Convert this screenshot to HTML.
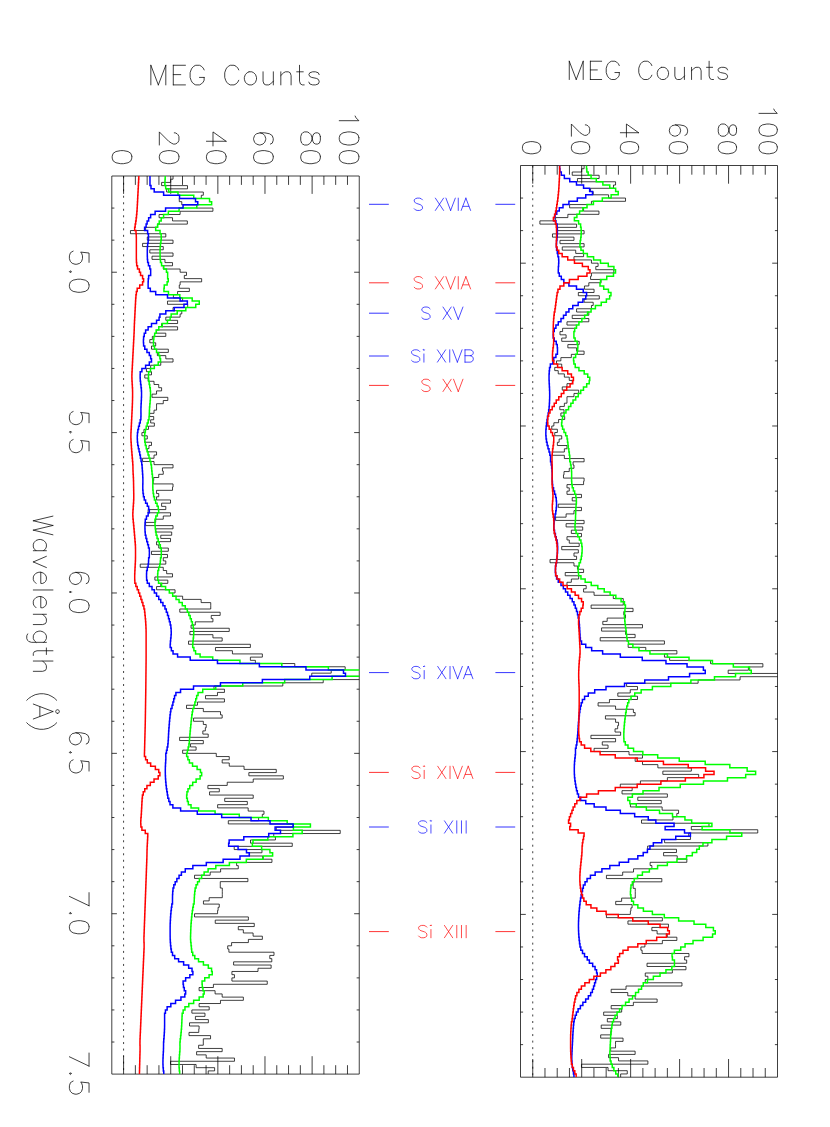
<!DOCTYPE html>
<html><head><meta charset="utf-8"><title>MEG Counts</title>
<style>html,body{margin:0;padding:0;background:#fff;font-family:"Liberation Sans",sans-serif}svg{display:block}</style>
</head><body>
<svg width="830" height="1127" viewBox="0 0 830 1127">
<rect width="830" height="1127" fill="#fff"/>
<path d="M111.8 176H359.25V1074.1H111.8ZM123.58 176v17.9M123.58 1074.1v-17.9M135.37 176v8.9M135.37 1074.1v-8.9M147.15 176v8.9M147.15 1074.1v-8.9M158.93 176v8.9M158.93 1074.1v-8.9M170.72 176v17.9M170.72 1074.1v-17.9M182.5 176v8.9M182.5 1074.1v-8.9M194.28 176v8.9M194.28 1074.1v-8.9M206.07 176v8.9M206.07 1074.1v-8.9M217.85 176v17.9M217.85 1074.1v-17.9M229.63 176v8.9M229.63 1074.1v-8.9M241.42 176v8.9M241.42 1074.1v-8.9M253.2 176v8.9M253.2 1074.1v-8.9M264.98 176v17.9M264.98 1074.1v-17.9M276.77 176v8.9M276.77 1074.1v-8.9M288.55 176v8.9M288.55 1074.1v-8.9M300.33 176v8.9M300.33 1074.1v-8.9M312.12 176v17.9M312.12 1074.1v-17.9M323.9 176v8.9M323.9 1074.1v-8.9M335.68 176v8.9M335.68 1074.1v-8.9M347.47 176v8.9M347.47 1074.1v-8.9M111.8 208.07h2.6M359.25 208.07h-2.6M111.8 240.15h2.6M359.25 240.15h-2.6M111.8 272.22h5.1M359.25 272.22h-5.1M111.8 304.3h2.6M359.25 304.3h-2.6M111.8 336.38h2.6M359.25 336.38h-2.6M111.8 368.45h2.6M359.25 368.45h-2.6M111.8 400.53h2.6M359.25 400.53h-2.6M111.8 432.6h5.1M359.25 432.6h-5.1M111.8 464.68h2.6M359.25 464.68h-2.6M111.8 496.75h2.6M359.25 496.75h-2.6M111.8 528.83h2.6M359.25 528.83h-2.6M111.8 560.9h2.6M359.25 560.9h-2.6M111.8 592.97h5.1M359.25 592.97h-5.1M111.8 625.05h2.6M359.25 625.05h-2.6M111.8 657.12h2.6M359.25 657.12h-2.6M111.8 689.2h2.6M359.25 689.2h-2.6M111.8 721.27h2.6M359.25 721.27h-2.6M111.8 753.35h5.1M359.25 753.35h-5.1M111.8 785.43h2.6M359.25 785.43h-2.6M111.8 817.5h2.6M359.25 817.5h-2.6M111.8 849.58h2.6M359.25 849.58h-2.6M111.8 881.65h2.6M359.25 881.65h-2.6M111.8 913.72h5.1M359.25 913.72h-5.1M111.8 945.8h2.6M359.25 945.8h-2.6M111.8 977.88h2.6M359.25 977.88h-2.6M111.8 1009.95h2.6M359.25 1009.95h-2.6M111.8 1042.03h2.6M359.25 1042.03h-2.6" fill="none" stroke="#000" stroke-width="0.75"/>
<clipPath id="clipL"><rect x="111.8" y="176" width="247.45" height="898.1"/></clipPath>
<g clip-path="url(#clipL)" fill="none" stroke-linejoin="miter">
<path d="M123.58 176V1074.1" stroke="#000" stroke-width="0.75" stroke-dasharray="2 4.51" stroke-dashoffset="-0.23"/>
<path d="M173.04 176V179.21H170.68V182.41H161.6V185.62H187.51V188.83H166.64V192.04H203.33V195.25H201.31V198.45H179.27V201.66H181.79V204.87H196.6V208.07H212.93V211.28H180.11V214.49H159.07V217.7H172.53V220.91H187.35V224.11H157.39V227.32H145.61V230.53H130.46V233.73H165.8V236.94H147.29V240.15H173.04V243.36H142.58V246.56H163.28V249.77H149.81V252.98H173.04V256.19H152V259.39H164.96V262.6H172.53V265.81H163.28V269.02H180.11V272.23H186.5V275.43H184.32V278.64H201.65V281.85H180.11V285.05H179.27V288.26H189.36V291.47H177.58V294.68H173.38V297.88H182.63V301.09H167.49V304.3H187.68V307.51H173.04V310.71H181.79V313.92H180.11V317.13H165.8V320.34H177.58V323.54H161.6V326.75H177.58V329.96H156.55V333.17H165.8V336.38H152.34V339.58H149.81V342.79H155.7V346H151.5V349.2H168.33V352.41H157.39V355.62H165.8V358.83H173.04V362.03H160.75V365.24H150.66V368.45H146.45V371.66H151.5V374.87H144.77V378.07H148.13V381.28H154.02V384.49H158.73V387.69H161.6V390.9H156.55V394.11H152V397.32H167.82V400.52H163.28V403.73H156.55V406.94H156.55V410.15H154.02V413.35H149.65V416.56H153.69V419.77H150.66V422.98H154.36V426.18H148.47V429.39H143.92V432.6H141.9V435.81H147.29V439.01H144.77V442.22H151.5V445.43H148.97V448.64H147.29V451.84H156.55V455.05H154.02V458.26H142.58V461.47H154.02V464.67H173.04V467.88H162.44V471.09H163.28V474.3H158.73V477.5H153.69V480.71H153.18V483.92H173.04V487.13H172.53V490.33H156.55V493.54H158.73V496.75H156.55V499.96H170.52V503.16H161.6V506.37H165.8V509.58H148.13V512.79H170.52V515.99H163.28V519.2H155.7V522.41H145.61V525.62H173.04V528.82H155.7V532.03H171.69V535.24H160.75V538.45H170.52V541.65H156.55V544.86H158.73V548.07H168.33V551.28H151.5V554.48H167.49V557.69H163.28V560.9H165.8V564.11H140.22V567.31H163.28V570.52H166.64V573.73H172.53V576.94H154.86V580.14H167.82V583.35H160.75V586.56H156.55V589.77H175.06V592.97H172.53V596.18H182.63V599.39H201.15V602.6H210.74V605.8H210.74V609.01H179.77V612.22H220.16V615.43H211.24V618.63H212.93V621.84H195.26V625.05H191.05V628.26H229.25V631.46H189.87V634.67H212.93V637.88H222.18V641.09H188.53V644.29H250.39V647.5H215.47V650.71H232.43V653.92H262.37V657.12H250.39V660.33H255.38V663.54H294.79V666.75H345.18V669.95H331.21V673.16H311.76V676.37H364.64V679.58H323.23V682.78H282.82V685.99H213.97V689.2H224.45V692.41H217.47V695.61H205.49V698.82H224.45V702.03H197.44V705.24H186.5V708.44H203.33V711.65H220.5V714.86H222.18V718.07H193.57V721.27H203.33V724.48H206.2V727.69H205.35V730.9H202.83V734.1H208.21V737.31H179.6V740.52H203.33V743.73H190.54V746.93H196.1V750.14H182.63V753.35H216.29V756.56H229.25V759.76H222.18V762.97H229.25V766.18H244.06V769.39H276.28V772.59H248.85V775.8H283.35V779.01H253.22V782.22H227.23V785.42H207.88V788.63H219.32V791.84H209.56V795.05H253.22V798.25H224.71V801.46H247.33V804.67H217.64V807.88H248.17V811.08H263.99V814.29H262.31V817.5H258.61V820.71H228.31V823.91H293.28V827.12H276.28V830.33H340.23V833.54H273.76V836.74H275.44V839.95H250.53V843.16H292.27V846.37H234.21V849.57H261.97V852.78H249.57V855.99H262.7V859.2H271.95V862.4H236.61V865.61H238.29V868.82H220.62V872.03H210.19V875.23H194.53V878.44H247.89V881.65H220.28V884.86H220.28V888.06H222.3V891.27H222.3V894.48H222.3V897.69H209.18V900.89H203.45V904.1H219.27V907.31H218.1V910.52H217.59V913.72H194.53V916.93H248.39V920.14H215.24V923.35H254.28V926.55H238.29V929.76H243.34V932.97H253.1V936.18H262.36V939.38H248.39V942.59H231.58V945.8H227.71V949.01H228.89V952.21H274V955.42H269.79V958.63H271.81V961.84H233.6V965.04H271.14V968.25H258.01V971.46H231.92V974.67H234.45V977.87H231.92V981.08H267.26V984.29H213.41V987.5H199.1V990.7H215.09V993.91H222.16V997.12H243.37V1000.33H220.48V1003.53H199.1V1006.74H209.2V1009.95H191.87V1013.16H204.99V1016.36H195.4V1019.57H208.36V1022.78H189.51V1025.99H199.1V1029.19H198.77V1032.4H189V1035.61H210.55V1038.82H203.31V1042.02H203.31V1045.23H198.62V1048.44H222.18V1051.65H196.6V1054.86H206.2V1058.06H234.47V1061.27H170.52V1064.48H196.1V1067.68H214.61V1070.89H208.21V1074.1" stroke="#000" stroke-width="0.75"/>
<path d="M165.19 176V179.21H165.02V182.41H164.85V185.62H165.69V188.83H168.72V192.04H177.98V195.25H193.75V198.45H209.55V201.66H211.64V204.87H196.75V208.07H179.09V211.28H168.37V214.49H163.56V217.7H161.19V220.91H159.22V224.11H157.7V227.32H155.68V230.53H160.06V233.73H161.15V236.94H161.23V240.15H160.9V243.36H160.44V246.56H160.14V249.77H160.06V252.98H160.06V256.19H160.14V259.39H160.48V262.6H161.57V265.81H163.76V269.02H166.45V272.23H167.63V275.43H167.63V278.64H168.26V281.85H167.13V285.05H164.26V288.26H163.93V291.47H168.47V294.68H179.83V297.88H192.2V301.09H199.27V304.3H195.74V307.51H185.81V310.71H177.22V313.92H171.16V317.13H170.15V320.34H167.46V323.54H162.27V326.75H158.79V329.96H156.16V333.17H154.67V336.38H153.83V339.58H153.49V342.79H153.49V346H154.5V349.2H156.52V352.41H158.71V355.62H159.89V358.83H160.56V362.03H158.21V365.24H154.33V368.45H150.46V371.66H148.61V374.87H148.44V378.07H148.65V381.28H149.17V384.49H149.78V387.69H150.29V390.9H150.53V394.11H150.52V397.32H150.34V400.52H150.1V403.73H149.81V406.94H149.53V410.15H149.38V413.35H149.27V416.56H149.03V419.77H148.19V422.98H147.18V426.18H146.17V429.39H145.34V432.6H144.78V435.81H144.57V439.01H144.83V442.22H145.33V445.43H146.21V448.64H147.12V451.84H148.05V455.05H149V458.26H149.96V461.47H150.91V464.67H151.46V467.88H151.71V471.09H152.04V474.3H152.45V477.5H152.74V480.71H152.83V483.92H152.81V487.13H152.86V490.33H153.13V493.54H153.61V496.75H154.44V499.96H155.64V503.16H157.11V506.37H158.25V509.58H158.68V512.79H157.36V515.99H155.82V519.2H154.94V522.41H154.99V525.62H155.21V528.82H155.59V532.03H156.12V535.24H157.06V538.45H158.17V541.65H159.28V544.86H160.33V548.07H161.23V551.28H161.32V554.48H161.23V557.69H160.52V560.9H160.27V564.11H159.72V567.31H158.71V570.52H157.87V573.73H157.66V576.94H157.74V580.14H158.54V583.35H161.57V586.56H165.61V589.77H169.31V592.97H172.68V596.18H176.05V599.39H179.07V602.6H182.27V605.8H185.3V609.01H187.32V612.22H188.84V615.43H190.18V618.63H191.32V621.84H192.37V625.05H193.21V628.26H193.63V631.46H193.76V634.67H193.55V637.88H193.21V641.09H192.92V644.29H192.71V647.5H193.89V650.71H195.57V653.92H200.11V657.12H212.73V660.33H239.96V663.54H281.83V666.75H328.4V669.95H365.88V673.16H367.84V676.37H332.09V679.58H284.66V682.78H242.72V685.99H215.74V689.2H202.73V692.41H198.04V695.61H196.65V698.82H195.75V702.03H194.86V705.24H193.97V708.44H192.74V711.65H192.23V714.86H191.8V718.07H191.41V721.27H191.06V724.48H190.73V727.69H190.39V730.9H190.1V734.1H189.85V737.31H189.59V740.52H189.3V743.73H188.92V746.93H188.16V750.14H187.41V753.35H186.65V756.56H187.87V759.76H189.38V762.97H192.54V766.18H197.12V769.39H200.45V772.59H201.67V775.8H200.11V779.01H196.12V782.22H192.71V785.42H189.72V788.63H187.99V791.84H186.98V795.05H186.65V798.25H187.36V801.46H188.33V804.67H191.02V807.88H198.6V811.08H215.09V814.29H239.28V817.5H268.35V820.71H287.2V823.91H310.42V827.12H293.42V830.33H302.17V833.54H292.92V836.74H267.84V839.95H253.03V843.16H252.36V846.37H261.61V849.57H269.92V852.78H272.61V855.99H263.28V859.2H246.33V862.4H229.38V865.61H215.8V868.82H208.11V872.03H204.12V875.23H201.65V878.44H199.34V881.65H197.54V884.86H196.08V888.06H195.12V891.27H194.7V894.48H194.42V897.69H194.26V900.89H194.14V904.1H193.35V907.31H192.77V910.52H192.27V913.72H191.86V916.93H191.53V920.14H191.25V923.35H191V926.55H190.84V929.76H190.72V932.97H190.61V936.18H190.53V939.38H190.68V942.59H191.04V945.8H191.38V949.01H191.7V952.21H192.74V955.42H194.79V958.63H198.52V961.84H203.42V965.04H208.33V968.25H211.56V971.46H212.26V974.67H209.09V977.87H204.74V981.08H202.07V984.29H202.27V987.5H202.97V990.7H204.17V993.91H203.19V997.12H199.18V1000.33H193.65V1003.53H188.8V1006.74H184.96V1009.95H183.13V1013.16H182.15V1016.36H182.01V1019.57H181.87V1022.78H181.72V1025.99H181.54V1029.19H181.27V1032.4H180.96V1035.61H180.61V1038.82H180.18V1042.02H179.94V1045.23H179.99V1048.44H179.92V1051.65H179.66V1054.86H179.41V1058.06H179.2V1061.27H179.07V1064.48H179.07V1067.68H179.29V1070.89H179.66V1074.1" stroke="#00ff00" stroke-width="1.5"/>
<path d="M149.98 176V179.21H149.98V182.41H149.98V185.62H150.99V188.83H154.19V192.04H163.61V195.25H179.55V198.45H195.52V201.66H197.78V204.87H183.05V208.07H165.58V211.28H155.12V214.49H150.62V217.7H148.64V220.91H147.12V224.11H146.11V227.32H144.6V230.53H147.63V233.73H148.47V236.94H148.47V240.15H148.13V243.36H147.67V246.56H147.37V249.77H147.29V252.98H147.29V256.19H147.37V259.39H147.63V262.6H148.47V265.81H149.81V269.02H150.66V272.23H150.66V275.43H148.64V278.64H148.26V281.85H148.13V285.05H148.13V288.26H150.32V291.47H155.7V294.68H167.49V297.88H180.11V301.09H187.35V304.3H183.98V307.51H174.22V310.71H165.8V313.92H159.91V317.13H159.07V320.34H156.55V323.54H151.5V326.75H148.13V329.96H145.61V333.17H144.26V336.38H143.59V339.58H143.42V342.79H143.59V346H144.77V349.2H146.95V352.41H149.31V355.62H150.66V358.83H151.5V362.03H149.31V365.24H145.61V368.45H141.9V371.66H140.22V374.87H140.14V378.07H140.26V381.28H140.6V384.49H141.02V387.69H141.36V390.9H141.53V394.11H141.53V397.32H141.4V400.52H141.23V403.73H141.06V406.94H140.94V410.15H140.94V413.35H140.98V416.56H140.89V419.77H140.22V422.98H139.38V426.18H138.54V429.39H137.86V432.6H137.44V435.81H137.28V439.01H137.4V442.22H137.7V445.43H138.37V448.64H139.04V451.84H139.72V455.05H140.39V458.26H141.06V461.47H141.74V464.67H142.11V467.88H142.32V471.09H142.54V474.3H142.75V477.5H142.87V480.71H142.87V483.92H142.79V487.13H142.79V490.33H143V493.54H143.42V496.75H144.26V499.96H145.61V503.16H147.29V506.37H148.64V509.58H149.31V512.79H148.13V515.99H146.45V519.2H145.27V522.41H145.02V525.62H144.93V528.82H145.02V532.03H145.27V535.24H145.94V538.45H146.78V541.65H147.63V544.86H148.47V548.07H149.31V551.28H149.39V554.48H149.31V557.69H148.64V560.9H148.51V564.11H148.13V567.31H147.29V570.52H146.62V573.73H146.53V576.94H146.62V580.14H147.29V583.35H149.31V586.56H152V589.77H154.36V592.97H156.55V596.18H158.73V599.39H160.75V602.6H162.94V605.8H164.96V609.01H166.31V612.22H167.49V615.43H168.5V618.63H169.34V621.84H170.18V625.05H170.85V628.26H171.15V631.46H171.23V634.67H171.02V637.88H170.68V641.09H170.39V644.29H170.18V647.5H171.36V650.71H173.04V653.92H177.58V657.12H190.21V660.33H217.47V663.54H259.37V666.75H305.97V669.95H343.49V673.16H345.48V676.37H309.76V679.58H262.37V682.78H220.46V685.99H193.52V689.2H180.55V692.41H175.9V695.61H174.55V698.82H173.71V702.03H172.87V705.24H172.03V708.44H170.85V711.65H170.39V714.86H170.01V718.07H169.67V721.27H169.38V724.48H169.13V727.69H168.87V730.9H168.66V734.1H168.5V737.31H168.33V740.52H168.12V743.73H167.82V746.93H167.15V750.14H166.48V753.35H165.8V756.56H165.84V759.76H165.68V762.97H165.47V766.18H165.34V769.39H165.3V772.59H165.34V775.8H165.47V779.01H165.68V782.22H165.97V785.42H166.35V788.63H166.81V791.84H167.32V795.05H167.82V798.25H168.83V801.46H170.01V804.67H172.87V807.88H180.61V811.08H197.28V814.29H221.68V817.5H251.04V820.71H270.05V823.91H293.11V827.12H275.1V830.33H280.49V833.54H268.71V836.74H243.8V839.95H229.16V843.16H228.65V846.37H238.08V849.57H246.49V852.78H249.23V855.99H239.98V859.2H223.15V862.4H206.32V865.61H192.85V868.82H185.28V872.03H181.41V875.23H179.05V878.44H176.86V881.65H175.18V884.86H173.83V888.06H172.99V891.27H172.7V894.48H172.53V897.69H172.49V900.89H172.49V904.1H171.81V907.31H171.35V910.52H170.97V913.72H170.68V916.93H170.47V920.14H170.3V923.35H170.17V926.55H170.13V929.76H170.13V932.97H170.13V936.18H170.17V939.38H170.3V942.59H170.53V945.8H170.87V949.01H171.33V952.21H172.51V955.42H174.7V958.63H178.57V961.84H183.62V965.04H188.67V968.25H192.03V971.46H192.88V974.67H189.85V977.87H185.64V981.08H183.11V984.29H183.45V987.5H184.29V990.7H185.64V993.91H184.8V997.12H180.93V1000.33H175.54V1003.53H170.83V1006.74H167.13V1009.95H165.44V1013.16H164.6V1016.36H164.6V1019.57H164.6V1022.78H164.6V1025.99H164.56V1029.19H164.43V1032.4H164.26V1035.61H164.05V1038.82H163.76V1042.02H163.55V1045.23H163.52V1048.44H163.45V1051.65H163.28V1054.86H163.11V1058.06H162.98V1061.27H162.94V1064.48H163.03V1067.68H163.32V1070.89H163.78V1074.1" stroke="#0000ff" stroke-width="1.5"/>
<path d="M138.79 176V179.21H138.62V182.41H138.45V185.62H138.29V188.83H138.12V192.04H137.95V195.25H137.78V198.45H137.61V201.66H137.44V204.87H137.28V208.07H137.09V211.28H136.83V214.49H136.52V217.7H136.14V220.91H135.68V224.11H135.17V227.32H134.67V230.53H136.01V233.73H136.27V236.94H136.35V240.15H136.35V243.36H136.35V246.56H136.35V249.77H136.35V252.98H136.35V256.19H136.35V259.39H136.43V262.6H136.69V265.81H137.53V269.02H139.38V272.23H140.56V275.43H142.58V278.64H143.59V281.85H142.58V285.05H139.72V288.26H137.19V291.47H136.35V294.68H135.93V297.88H135.68V301.09H135.51V304.3H135.34V307.51H135.17V310.71H135V313.92H134.84V317.13H134.67V320.34H134.5V323.54H134.35V326.75H134.25V329.96H134.14V333.17H133.99V336.38H133.83V339.58H133.66V342.79H133.49V346H133.32V349.2H133.15V352.41H132.98V355.62H132.82V358.83H132.65V362.03H132.48V365.24H132.31V368.45H132.14V371.66H131.97V374.87H131.89V378.07H131.97V381.28H132.15V384.49H132.34V387.69H132.52V390.9H132.59V394.11H132.58V397.32H132.53V400.52H132.45V403.73H132.33V406.94H132.18V410.15H132.03V413.35H131.88V416.56H131.72V419.77H131.55V422.98H131.39V426.18H131.22V429.39H131.06V432.6H130.92V435.81H130.88V439.01H131.01V442.22H131.22V445.43H131.43V448.64H131.66V451.84H131.92V455.05H132.2V458.26H132.48V461.47H132.76V464.67H132.93V467.88H132.97V471.09H133.09V474.3H133.29V477.5H133.45V480.71H133.55V483.92H133.6V487.13H133.66V490.33H133.71V493.54H133.77V496.75H133.76V499.96H133.62V503.16H133.4V506.37H133.19V509.58H132.95V512.79H132.81V515.99H132.95V519.2H133.25V522.41H133.56V525.62H133.86V528.82H134.15V532.03H134.43V535.24H134.7V538.45H134.97V541.65H135.24V544.86H135.44V548.07H135.51V551.28H135.51V554.48H135.51V557.69H135.47V560.9H135.34V564.11H135.17V567.31H135V570.52H134.84V573.73H134.71V576.94H134.71V580.14H134.84V583.35H135.85V586.56H137.19V589.77H138.54V592.97H139.72V596.18H140.89V599.39H141.9V602.6H142.91V605.8H143.92V609.01H144.6V612.22H144.93V615.43H145.27V618.63H145.56V621.84H145.78V625.05H145.94V628.26H146.07V631.46H146.11V634.67H146.11V637.88H146.11V641.09H146.11V644.29H146.11V647.5H146.11V650.71H146.11V653.92H146.11V657.12H146.1V660.33H146.08V663.54H146.04V666.75H146.01V669.95H145.98V673.16H145.94V676.37H145.91V679.58H145.88V682.78H145.84V685.99H145.81V689.2H145.77V692.41H145.72V695.61H145.67V698.82H145.62V702.03H145.57V705.24H145.52V708.44H145.47V711.65H145.42V714.86H145.37V718.07H145.32V721.27H145.26V724.48H145.19V727.69H145.1V730.9H145.02V734.1H144.93V737.31H144.85V740.52H144.77V743.73H144.68V746.93H144.6V750.14H144.51V753.35H144.43V756.56H145.61V759.76H147.29V762.97H150.66V766.18H155.37V769.39H158.73V772.59H159.91V775.8H158.23V779.01H154.02V782.22H150.32V785.42H146.95V788.63H144.77V791.84H143.25V795.05H142.41V798.25H142.11V801.46H141.9V804.67H141.74V807.88H141.57V811.08H141.4V814.29H141.19V817.5H140.89V820.71H140.73V823.91H140.89V827.12H141.9V830.33H145.27V833.54H147.79V836.74H147.63V839.95H147.46V843.16H147.29V846.37H147.12V849.57H147.01V852.78H146.96V855.99H146.89V859.2H146.77V862.4H146.65V865.61H146.53V868.82H146.41V872.03H146.3V875.23H146.18V878.44H146.06V881.65H145.94V884.86H145.83V888.06H145.71V891.27H145.59V894.48H145.47V897.69H145.35V900.89H145.24V904.1H145.12V907.31H145V910.52H144.88V913.72H144.77V916.93H144.65V920.14H144.53V923.35H144.41V926.55H144.29V929.76H144.18V932.97H144.06V936.18H143.94V939.38H143.96V942.59H144.1V945.8H144.1V949.01H143.95V952.21H143.81V955.42H143.67V958.63H143.53V961.84H143.39V965.04H143.25V968.25H143.11V971.46H142.97V974.67H142.82V977.87H142.68V981.08H142.54V984.29H142.4V987.5H142.26V990.7H142.12V993.91H141.98V997.12H141.84V1000.33H141.7V1003.53H141.55V1006.74H141.41V1009.95H141.27V1013.16H141.13V1016.36H140.99V1019.57H140.85V1022.78H140.71V1025.99H140.57V1029.19H140.43V1032.4H140.28V1035.61H140.14V1038.82H140V1042.02H139.96V1045.23H140.05V1048.44H140.05V1051.65H139.97V1054.86H139.88V1058.06H139.8V1061.27H139.72V1064.48H139.63V1067.68H139.55V1070.89H139.46V1074.1" stroke="#ff0000" stroke-width="1.5"/>
</g>
<path d="M150.85 65.27 L150.85 84.9 M150.85 65.27 L158.33 84.9 M165.81 65.27 L158.33 84.9 M165.81 65.27 L165.81 84.9 M173.29 65.27 L173.29 84.9 M173.29 65.27 L185.44 65.27 M173.29 74.62 L180.77 74.62 M173.29 84.9 L185.44 84.9 M204.14 69.94 L203.21 68.07 L201.34 66.2 L199.47 65.27 L195.73 65.27 L193.86 66.2 L191.99 68.07 L191.05 69.94 L190.12 72.75 L190.12 77.42 L191.05 80.23 L191.99 82.09 L193.86 83.97 L195.73 84.9 L199.47 84.9 L201.34 83.97 L203.21 82.09 L204.14 80.23 L204.14 77.42 M199.47 77.42 L204.14 77.42 M238.74 69.94 L237.81 68.07 L235.94 66.2 L234.06 65.27 L230.32 65.27 L228.45 66.2 L226.58 68.07 L225.65 69.94 L224.72 72.75 L224.72 77.42 L225.65 80.23 L226.58 82.09 L228.45 83.97 L230.32 84.9 L234.06 84.9 L235.94 83.97 L237.81 82.09 L238.74 80.23 M249.03 71.81 L247.16 72.75 L245.28 74.62 L244.35 77.42 L244.35 79.29 L245.28 82.09 L247.16 83.97 L249.03 84.9 L251.83 84.9 L253.7 83.97 L255.57 82.09 L256.5 79.29 L256.5 77.42 L255.57 74.62 L253.7 72.75 L251.83 71.81 L249.03 71.81 M263.05 71.81 L263.05 81.16 L263.99 83.97 L265.86 84.9 L268.66 84.9 L270.53 83.97 L273.34 81.16 M273.34 71.81 L273.34 84.9 M280.82 71.81 L280.82 84.9 M280.82 75.55 L283.62 72.75 L285.49 71.81 L288.3 71.81 L290.17 72.75 L291.1 75.55 L291.1 84.9 M299.51 65.27 L299.51 81.16 L300.45 83.97 L302.32 84.9 L304.19 84.9 M296.71 71.81 L303.25 71.81 M319.15 74.62 L318.22 72.75 L315.41 71.81 L312.61 71.81 L309.8 72.75 L308.87 74.62 L309.8 76.48 L311.67 77.42 L316.35 78.36 L318.22 79.29 L319.15 81.16 L319.15 82.09 L318.22 83.97 L315.41 84.9 L312.61 84.9 L309.8 83.97 L308.87 82.09" fill="none" stroke="#000" stroke-width="0.75" stroke-linecap="round" stroke-linejoin="round"/>
<path d="M131.82 156.22 L130.88 153.41 L128.08 151.54 L123.4 150.61 L120.6 150.61 L115.92 151.54 L113.12 153.41 L112.18 156.22 L112.18 158.09 L113.12 160.89 L115.92 162.76 L120.6 163.7 L123.4 163.7 L128.08 162.76 L130.88 160.89 L131.82 158.09 L131.82 156.22" fill="none" stroke="#000" stroke-width="0.75" stroke-linecap="round" stroke-linejoin="round"/>
<path d="M174.28 132.84 L175.21 132.84 L177.08 133.78 L178.02 134.71 L178.95 136.58 L178.95 140.32 L178.02 142.19 L177.08 143.13 L175.21 144.06 L173.34 144.06 L171.47 143.13 L168.67 141.26 L159.32 131.91 L159.32 145 M178.95 156.22 L178.02 153.41 L175.21 151.54 L170.54 150.61 L167.73 150.61 L163.06 151.54 L160.25 153.41 L159.32 156.22 L159.32 158.09 L160.25 160.89 L163.06 162.76 L167.73 163.7 L170.54 163.7 L175.21 162.76 L178.02 160.89 L178.95 158.09 L178.95 156.22" fill="none" stroke="#000" stroke-width="0.75" stroke-linecap="round" stroke-linejoin="round"/>
<path d="M226.08 141.26 L212.99 131.91 L212.99 145.93 M226.08 141.26 L206.45 141.26 M226.08 156.22 L225.15 153.41 L222.34 151.54 L217.67 150.61 L214.86 150.61 L210.19 151.54 L207.38 153.41 L206.45 156.22 L206.45 158.09 L207.38 160.89 L210.19 162.76 L214.86 163.7 L217.67 163.7 L222.34 162.76 L225.15 160.89 L226.08 158.09 L226.08 156.22" fill="none" stroke="#000" stroke-width="0.75" stroke-linecap="round" stroke-linejoin="round"/>
<path d="M270.41 144.06 L272.28 143.13 L273.22 140.32 L273.22 138.45 L272.28 135.65 L269.48 133.78 L264.8 132.84 L260.13 132.84 L256.39 133.78 L254.52 135.65 L253.58 138.45 L253.58 139.39 L254.52 142.19 L256.39 144.06 L259.19 145 L260.13 145 L262.93 144.06 L264.8 142.19 L265.74 139.39 L265.74 138.45 L264.8 135.65 L262.93 133.78 L260.13 132.84 M273.22 156.22 L272.28 153.41 L269.48 151.54 L264.8 150.61 L262 150.61 L257.32 151.54 L254.52 153.41 L253.58 156.22 L253.58 158.09 L254.52 160.89 L257.32 162.76 L262 163.7 L264.8 163.7 L269.48 162.76 L272.28 160.89 L273.22 158.09 L273.22 156.22" fill="none" stroke="#000" stroke-width="0.75" stroke-linecap="round" stroke-linejoin="round"/>
<path d="M320.35 136.58 L319.42 133.78 L317.55 132.84 L315.68 132.84 L313.81 133.78 L312.87 135.65 L311.94 139.39 L311 142.19 L309.13 144.06 L307.26 145 L304.46 145 L302.59 144.06 L301.65 143.13 L300.72 140.32 L300.72 136.58 L301.65 133.78 L302.59 132.84 L304.46 131.91 L307.26 131.91 L309.13 132.84 L311 134.71 L311.94 137.52 L312.87 141.26 L313.81 143.13 L315.68 144.06 L317.55 144.06 L319.42 143.13 L320.35 140.32 L320.35 136.58 M320.35 156.22 L319.42 153.41 L316.61 151.54 L311.94 150.61 L309.13 150.61 L304.46 151.54 L301.65 153.41 L300.72 156.22 L300.72 158.09 L301.65 160.89 L304.46 162.76 L309.13 163.7 L311.94 163.7 L316.61 162.76 L319.42 160.89 L320.35 158.09 L320.35 156.22" fill="none" stroke="#000" stroke-width="0.75" stroke-linecap="round" stroke-linejoin="round"/>
<path d="M355.14 116.01 L356.08 117.88 L358.88 120.69 L339.25 120.69 M358.88 137.52 L357.95 134.71 L355.14 132.84 L350.47 131.91 L347.67 131.91 L342.99 132.84 L340.19 134.71 L339.25 137.52 L339.25 139.39 L340.19 142.19 L342.99 144.06 L347.67 145 L350.47 145 L355.14 144.06 L357.95 142.19 L358.88 139.39 L358.88 137.52 M358.88 156.22 L357.95 153.41 L355.14 151.54 L350.47 150.61 L347.67 150.61 L342.99 151.54 L340.19 153.41 L339.25 156.22 L339.25 158.09 L340.19 160.89 L342.99 162.76 L347.67 163.7 L350.47 163.7 L355.14 162.76 L357.95 160.89 L358.88 158.09 L358.88 156.22" fill="none" stroke="#000" stroke-width="0.75" stroke-linecap="round" stroke-linejoin="round"/>
<path d="M89.04 262.37 L89.04 253.02 L80.62 252.09 L81.56 253.02 L82.49 255.83 L82.49 258.63 L81.56 261.44 L79.69 263.31 L76.88 264.24 L75.01 264.24 L72.21 263.31 L70.34 261.44 L69.4 258.63 L69.4 255.83 L70.34 253.02 L71.27 252.09 L73.14 251.15 M71.27 271.72 L70.34 270.79 L69.4 271.72 L70.34 272.66 L71.27 271.72 M70.34 271.72 L70.34 271.73 M89.04 284.81 L88.1 282.01 L85.3 280.14 L80.62 279.2 L77.82 279.2 L73.14 280.14 L70.34 282.01 L69.4 284.81 L69.4 286.68 L70.34 289.49 L73.14 291.36 L77.82 292.29 L80.62 292.29 L85.3 291.36 L88.1 289.49 L89.04 286.68 L89.04 284.81" fill="none" stroke="#000" stroke-width="0.75" stroke-linecap="round" stroke-linejoin="round"/>
<path d="M89.04 422.75 L89.04 413.4 L80.62 412.46 L81.56 413.4 L82.49 416.2 L82.49 419.01 L81.56 421.81 L79.69 423.68 L76.88 424.62 L75.01 424.62 L72.21 423.68 L70.34 421.81 L69.4 419.01 L69.4 416.2 L70.34 413.4 L71.27 412.46 L73.14 411.53 M71.27 432.1 L70.34 431.16 L69.4 432.1 L70.34 433.03 L71.27 432.1 M70.34 432.1 L70.34 432.11 M89.04 450.8 L89.04 441.45 L80.62 440.51 L81.56 441.45 L82.49 444.25 L82.49 447.06 L81.56 449.86 L79.69 451.73 L76.88 452.67 L75.01 452.67 L72.21 451.73 L70.34 449.86 L69.4 447.06 L69.4 444.25 L70.34 441.45 L71.27 440.51 L73.14 439.58" fill="none" stroke="#000" stroke-width="0.75" stroke-linecap="round" stroke-linejoin="round"/>
<path d="M86.23 583.59 L88.1 582.66 L89.04 579.85 L89.04 577.98 L88.1 575.18 L85.3 573.31 L80.62 572.37 L75.95 572.37 L72.21 573.31 L70.34 575.18 L69.4 577.98 L69.4 578.92 L70.34 581.72 L72.21 583.59 L75.01 584.53 L75.95 584.53 L78.75 583.59 L80.62 581.72 L81.56 578.92 L81.56 577.98 L80.62 575.18 L78.75 573.31 L75.95 572.37 M71.27 592.01 L70.34 591.07 L69.4 592.01 L70.34 592.94 L71.27 592.01 M70.34 592.01 L70.34 592.02 M89.04 605.1 L88.1 602.29 L85.3 600.42 L80.62 599.49 L77.82 599.49 L73.14 600.42 L70.34 602.29 L69.4 605.1 L69.4 606.97 L70.34 609.77 L73.14 611.64 L77.82 612.58 L80.62 612.58 L85.3 611.64 L88.1 609.77 L89.04 606.97 L89.04 605.1" fill="none" stroke="#000" stroke-width="0.75" stroke-linecap="round" stroke-linejoin="round"/>
<path d="M86.23 743.97 L88.1 743.03 L89.04 740.23 L89.04 738.36 L88.1 735.55 L85.3 733.68 L80.62 732.75 L75.95 732.75 L72.21 733.68 L70.34 735.55 L69.4 738.36 L69.4 739.29 L70.34 742.1 L72.21 743.97 L75.01 744.9 L75.95 744.9 L78.75 743.97 L80.62 742.1 L81.56 739.29 L81.56 738.36 L80.62 735.55 L78.75 733.68 L75.95 732.75 M71.27 752.38 L70.34 751.45 L69.4 752.38 L70.34 753.32 L71.27 752.38 M70.34 752.38 L70.34 752.39 M89.04 771.08 L89.04 761.73 L80.62 760.8 L81.56 761.73 L82.49 764.54 L82.49 767.34 L81.56 770.15 L79.69 772.02 L76.88 772.95 L75.01 772.95 L72.21 772.02 L70.34 770.15 L69.4 767.34 L69.4 764.54 L70.34 761.73 L71.27 760.8 L73.14 759.86" fill="none" stroke="#000" stroke-width="0.75" stroke-linecap="round" stroke-linejoin="round"/>
<path d="M89.04 905.74 L69.4 896.39 M89.04 892.65 L89.04 905.74 M71.27 913.22 L70.34 912.29 L69.4 913.22 L70.34 914.16 L71.27 913.22 M70.34 913.22 L70.34 913.23 M89.04 926.31 L88.1 923.51 L85.3 921.64 L80.62 920.7 L77.82 920.7 L73.14 921.64 L70.34 923.51 L69.4 926.31 L69.4 928.18 L70.34 930.99 L73.14 932.86 L77.82 933.79 L80.62 933.79 L85.3 932.86 L88.1 930.99 L89.04 928.18 L89.04 926.31" fill="none" stroke="#000" stroke-width="0.75" stroke-linecap="round" stroke-linejoin="round"/>
<path d="M89.04 1066.12 L69.4 1056.77 M89.04 1053.03 L89.04 1066.12 M71.27 1073.6 L70.34 1072.66 L69.4 1073.6 L70.34 1074.53 L71.27 1073.6 M70.34 1073.6 L70.34 1073.61 M89.04 1092.3 L89.04 1082.95 L80.62 1082.01 L81.56 1082.95 L82.49 1085.75 L82.49 1088.56 L81.56 1091.37 L79.69 1093.23 L76.88 1094.17 L75.01 1094.17 L72.21 1093.23 L70.34 1091.37 L69.4 1088.56 L69.4 1085.75 L70.34 1082.95 L71.27 1082.01 L73.14 1081.08" fill="none" stroke="#000" stroke-width="0.75" stroke-linecap="round" stroke-linejoin="round"/>
<path d="M52.93 516.11 L33.3 520.79 M52.93 525.46 L33.3 520.79 M52.93 525.46 L33.3 530.13 M52.93 534.81 L33.3 530.13 M46.39 550.71 L33.3 550.71 M43.58 550.71 L45.45 548.84 L46.39 546.97 L46.39 544.16 L45.45 542.29 L43.58 540.42 L40.78 539.49 L38.91 539.49 L36.1 540.42 L34.23 542.29 L33.3 544.16 L33.3 546.97 L34.23 548.84 L36.1 550.71 M46.39 556.32 L33.3 561.93 M46.39 567.54 L33.3 561.93 M40.78 572.21 L40.78 583.43 L42.65 583.43 L44.52 582.5 L45.45 581.56 L46.39 579.69 L46.39 576.88 L45.45 575.01 L43.58 573.14 L40.78 572.21 L38.91 572.21 L36.1 573.14 L34.23 575.01 L33.3 576.88 L33.3 579.69 L34.23 581.56 L36.1 583.43 M52.94 589.98 L33.3 589.98 M40.78 596.52 L40.78 607.74 L42.65 607.74 L44.52 606.81 L45.45 605.87 L46.39 604 L46.39 601.2 L45.45 599.33 L43.58 597.46 L40.78 596.52 L38.91 596.52 L36.1 597.46 L34.23 599.33 L33.3 601.2 L33.3 604 L34.23 605.87 L36.1 607.74 M46.39 614.29 L33.3 614.29 M42.65 614.29 L45.45 617.09 L46.39 618.96 L46.39 621.77 L45.45 623.63 L42.65 624.57 L33.3 624.57 M46.39 642.34 L31.43 642.34 L28.62 641.4 L27.69 640.47 L26.75 638.6 L26.75 635.79 L27.69 633.92 M43.58 642.34 L45.45 640.47 L46.39 638.6 L46.39 635.79 L45.45 633.92 L43.58 632.05 L40.78 631.12 L38.91 631.12 L36.1 632.05 L34.23 633.92 L33.3 635.79 L33.3 638.6 L34.23 640.47 L36.1 642.34 M52.94 650.75 L37.04 650.75 L34.23 651.69 L33.3 653.56 L33.3 655.43 M46.39 647.95 L46.39 654.49 M52.94 661.04 L33.3 661.04 M42.65 661.04 L45.45 663.84 L46.39 665.71 L46.39 668.52 L45.45 670.38 L42.65 671.32 L33.3 671.32 M56.68 700.31 L54.81 698.44 L52 696.57 L48.26 694.7 L43.59 693.76 L39.85 693.76 L35.17 694.7 L31.43 696.57 L28.63 698.44 L26.76 700.31 M52.94 711.53 L33.3 704.05 M52.94 711.53 L33.3 719.01 M39.85 706.85 L39.85 716.2 M57.52 713.35 L56.82 713.21 L56.23 712.81 L55.83 712.22 L55.69 711.53 L55.83 710.83 L56.23 710.24 L56.82 709.84 L57.52 709.7 L58.21 709.84 L58.81 710.24 L59.2 710.83 L59.34 711.53 L59.2 712.22 L58.81 712.81 L58.21 713.21 L57.52 713.35 M56.68 722.75 L54.81 724.62 L52 726.49 L48.26 728.36 L43.59 729.29 L39.85 729.29 L35.17 728.36 L31.43 726.49 L28.63 724.62 L26.76 722.75" fill="none" stroke="#000" stroke-width="0.75" stroke-linecap="round" stroke-linejoin="round"/>
<path d="M520.5 165.5H777.5V1077.2H520.5ZM532.74 165.5v18.2M532.74 1077.2v-18.2M544.98 165.5v9.2M544.98 1077.2v-9.2M557.21 165.5v9.2M557.21 1077.2v-9.2M569.45 165.5v9.2M569.45 1077.2v-9.2M581.69 165.5v18.2M581.69 1077.2v-18.2M593.93 165.5v9.2M593.93 1077.2v-9.2M606.17 165.5v9.2M606.17 1077.2v-9.2M618.4 165.5v9.2M618.4 1077.2v-9.2M630.64 165.5v18.2M630.64 1077.2v-18.2M642.88 165.5v9.2M642.88 1077.2v-9.2M655.12 165.5v9.2M655.12 1077.2v-9.2M667.36 165.5v9.2M667.36 1077.2v-9.2M679.6 165.5v18.2M679.6 1077.2v-18.2M691.83 165.5v9.2M691.83 1077.2v-9.2M704.07 165.5v9.2M704.07 1077.2v-9.2M716.31 165.5v9.2M716.31 1077.2v-9.2M728.55 165.5v18.2M728.55 1077.2v-18.2M740.79 165.5v9.2M740.79 1077.2v-9.2M753.02 165.5v9.2M753.02 1077.2v-9.2M765.26 165.5v9.2M765.26 1077.2v-9.2M520.5 198.06h2.6M777.5 198.06h-2.6M520.5 230.62h2.6M777.5 230.62h-2.6M520.5 263.18h5.3M777.5 263.18h-5.3M520.5 295.74h2.6M777.5 295.74h-2.6M520.5 328.3h2.6M777.5 328.3h-2.6M520.5 360.86h2.6M777.5 360.86h-2.6M520.5 393.43h2.6M777.5 393.43h-2.6M520.5 425.99h5.3M777.5 425.99h-5.3M520.5 458.55h2.6M777.5 458.55h-2.6M520.5 491.11h2.6M777.5 491.11h-2.6M520.5 523.67h2.6M777.5 523.67h-2.6M520.5 556.23h2.6M777.5 556.23h-2.6M520.5 588.79h5.3M777.5 588.79h-5.3M520.5 621.35h2.6M777.5 621.35h-2.6M520.5 653.91h2.6M777.5 653.91h-2.6M520.5 686.47h2.6M777.5 686.47h-2.6M520.5 719.03h2.6M777.5 719.03h-2.6M520.5 751.59h5.3M777.5 751.59h-5.3M520.5 784.15h2.6M777.5 784.15h-2.6M520.5 816.71h2.6M777.5 816.71h-2.6M520.5 849.28h2.6M777.5 849.28h-2.6M520.5 881.84h2.6M777.5 881.84h-2.6M520.5 914.4h5.3M777.5 914.4h-5.3M520.5 946.96h2.6M777.5 946.96h-2.6M520.5 979.52h2.6M777.5 979.52h-2.6M520.5 1012.08h2.6M777.5 1012.08h-2.6M520.5 1044.64h2.6M777.5 1044.64h-2.6" fill="none" stroke="#000" stroke-width="0.75"/>
<clipPath id="clipR"><rect x="520.5" y="165.5" width="257" height="911.7"/></clipPath>
<g clip-path="url(#clipR)" fill="none" stroke-linejoin="miter">
<path d="M532.74 165.5V1077.2" stroke="#000" stroke-width="0.75" stroke-dasharray="2 4.53" stroke-dashoffset="-0.08"/>
<path d="M584.1 165.5V168.76H581.66V172.01H572.22V175.27H599.14V178.52H577.46V181.78H615.57V185.04H613.47V188.29H590.57V191.55H593.19V194.8H608.57V198.06H625.53V201.32H591.44V204.57H569.6V207.83H583.58V211.09H598.96V214.34H567.85V217.6H555.61V220.85H539.88V224.11H576.59V227.37H557.36V230.62H584.1V233.88H552.47V237.13H573.97V240.39H559.98V243.65H584.1V246.9H562.25V250.16H575.71V253.41H583.58V256.67H573.97V259.93H591.44V263.18H598.09V266.44H595.81V269.69H613.82V272.95H591.44V276.21H590.57V279.46H601.06V282.72H588.82V285.97H584.45V289.23H594.07V292.49H578.34V295.74H599.31V299H584.1V302.25H593.19V305.51H591.44V308.77H576.59V312.02H588.82V315.28H572.22V318.54H588.82V321.79H566.97V325.05H576.59V328.3H562.6V331.56H559.98V334.82H566.1V338.07H561.73V341.33H579.21V344.58H567.85V347.84H576.59V351.1H584.1V354.35H571.34V357.61H560.86V360.86H556.49V364.12H561.73V367.38H554.74V370.63H558.23V373.89H564.35V377.14H569.25V380.4H572.22V383.66H566.97V386.91H562.25V390.17H578.68V393.43H573.97V396.68H566.97V399.94H566.97V403.19H564.35V406.45H559.81V409.71H564V412.96H560.86V416.22H564.7V419.47H558.58V422.73H553.86V425.99H551.77V429.24H557.36V432.5H554.74V435.75H561.73V439.01H559.11V442.27H557.36V445.52H566.97V448.78H564.35V452.03H552.47V455.29H564.35V458.55H584.1V461.8H573.09V465.06H573.97V468.31H569.25V471.57H564V474.83H563.48V478.08H584.1V481.34H583.58V484.6H566.97V487.85H569.25V491.11H566.97V494.36H581.48V497.62H572.22V500.88H576.59V504.13H558.23V507.39H581.48V510.64H573.97V513.9H566.1V517.16H555.61V520.41H584.1V523.67H566.1V526.92H582.71V530.18H571.34V533.44H581.48V536.69H566.97V539.95H569.25V543.2H579.21V546.46H561.73V549.72H578.34V552.97H573.97V556.23H576.59V559.48H550.02V562.74H573.97V566H577.46V569.25H583.58V572.51H565.23V575.77H578.68V579.02H571.34V582.28H566.97V585.53H586.2V588.79H583.58V592.05H594.07V595.3H613.29V598.56H623.26V601.81H623.26V605.07H591.1V608.33H633.05V611.58H623.78V614.84H625.53V618.09H607.18V621.35H602.81V624.61H642.49V627.86H601.58V631.12H625.53V634.37H635.14V637.63H600.19V640.89H664.44V644.14H628.17V647.4H645.79V650.65H676.88V653.91H664.44V657.17H669.62V660.42H710.56V663.68H762.89V666.94H748.38V670.19H728.17V673.45H783.1V676.7H740.09V679.96H698.12V683.22H626.62V686.47H637.5V689.73H630.24V692.98H617.81V696.24H637.5V699.5H609.45V702.75H598.09V706.01H615.57V709.26H633.4V712.52H635.14V715.78H605.43V719.03H615.57V722.29H618.54V725.54H617.66V728.8H615.04V732.06H620.64V735.31H590.92V738.57H615.57V741.82H602.28V745.08H608.05V748.34H594.07V751.59H629.03V754.85H642.49V758.11H635.14V761.36H642.49V764.62H657.87V767.87H691.33V771.13H662.84V774.39H698.67V777.64H667.38V780.9H640.39V784.15H620.29V787.41H632.17V790.67H622.03V793.92H667.38V797.18H637.77V800.43H661.26V803.69H630.42V806.95H662.14V810.2H678.57V813.46H676.82V816.71H672.97V819.97H641.51V823.23H708.98V826.48H691.33V829.74H757.75V832.99H688.71V836.25H690.45V839.51H664.58V842.76H707.93V846.02H647.63V849.28H676.47V852.53H663.59V855.79H677.22V859.04H686.83V862.3H650.13V865.56H651.87V868.81H633.52V872.07H622.68V875.32H606.43V878.58H661.84V881.84H633.17V885.09H633.17V888.35H635.27V891.6H635.27V894.86H635.27V898.12H621.63V901.37H615.69V904.63H632.12V907.88H630.9V911.14H630.37V914.4H606.43V917.65H662.36V920.91H627.93V924.16H668.48V927.42H651.87V930.68H657.12V933.93H667.26V937.19H676.87V940.45H662.36V943.7H644.91V946.96H640.89V950.21H642.11V953.47H688.96V956.73H684.59V959.98H686.68V963.24H647.01V966.49H685.98V969.75H672.35V973.01H645.26V976.26H647.88V979.52H645.26V982.77H681.96V986.03H626.03V989.29H611.17V992.54H627.78V995.8H635.12V999.05H657.14V1002.31H633.37V1005.57H611.17V1008.82H621.66V1012.08H603.66V1015.33H617.29V1018.59H607.33V1021.85H620.79V1025.1H601.21V1028.36H611.17V1031.62H610.82V1034.87H600.68V1038.13H623.06V1041.38H615.54V1044.64H615.54V1047.9H610.67V1051.15H635.14V1054.41H608.57V1057.66H618.54V1060.92H647.9V1064.18H581.48V1067.43H608.05V1070.69H627.28V1073.94H620.64V1077.2" stroke="#000" stroke-width="0.75"/>
<path d="M586.52 165.5V168.76H586.85V172.01H588.16V175.27H591.07V178.52H596.3V181.78H602.87V185.04H609.78V188.29H615.64V191.55H618.21V194.8H611.13V198.06H602.32V201.32H593.43V204.57H587.02V207.83H582.81V211.09H579.6V214.34H576.91V217.6H574.38V220.85H578.59V224.11H580.61V227.37H581.12V230.62H581.25V233.88H581.08V237.13H580.7V240.39H580.19V243.65H579.94V246.9H580.95V250.16H583.31V253.41H587.36V256.67H593.6V259.93H600.51V263.18H608.27V266.44H613.91V269.69H615.52V272.95H613.49V276.21H606.75V279.46H600.51V282.72H600V285.97H603.71V289.23H608.43V292.49H610.96V295.74H609.66V299H606.37V302.25H601.23V305.51H595.41V308.77H591.07V312.02H587.53V315.28H584.66V318.54H581.84V321.79H578.93V325.05H576.44V328.3H574.71V331.56H573.91V334.82H573.91V338.07H575.13V341.33H577.16V344.58H577.87V347.84H577.66V351.1H577.28V354.35H575.64V357.61H573.53V360.86H573.87V364.12H575.22V367.38H578.93V370.63H584.2V373.89H587.74V377.14H589.76V380.4H589.21V383.66H586.68V386.91H583.48V390.17H580.74V393.43H578.25V396.68H575.68V399.94H573.03V403.19H570.84V406.45H568.56V409.71H565.95V412.96H564.09V416.22H562.57V419.47H561.9V422.73H561.6V425.99H562.57V429.24H564.01V432.5H565.65V435.75H567.04V439.01H567.51V442.27H567.93V445.52H568.31V448.78H568.85V452.03H569.32V455.29H569.78V458.55H569.78V461.8H570.54V465.06H571.09V468.31H571.47V471.57H571.64V474.83H571.64V478.08H571.59V481.34H571.76V484.6H572.23V487.85H573.36V491.11H574.67V494.36H575.81V497.62H576.36V500.88H576.31V504.13H576.06V507.39H575.81V510.64H575.72V513.9H575.56V517.16H575.51V520.41H575.3V523.67H575.01V526.92H575.05V530.18H576.06V533.44H577.75V536.69H579.43V539.95H580.95V543.2H581.79V546.46H582.17V549.72H582.09V552.97H581.79V556.23H581.29V559.48H580.45V562.74H579.1V566H578.3V569.25H578.13V572.51H578.59V575.77H580.95V579.02H585.17V582.28H591.24V585.53H597.81V588.79H604.22V592.05H610.12V595.3H615.85V598.56H621.08V601.81H624.45V605.07H625.46V608.33H624.96V611.58H624.62V614.84H624.45V618.09H624.75V621.35H625V624.61H625.46V627.86H625.93V631.12H626.31V634.37H626.69V637.63H627.15V640.89H628.5V644.14H632.88V647.4H638.95V650.65H649.95V653.91H667.45V657.17H689.03V660.42H712.46V663.68H733.33V666.94H749.51V670.19H751.24V673.45H735.52V676.7H714.48V679.96H690.88V683.22H670.82V686.47H652.4V689.73H641.15V692.98H634.74V696.24H631.03V699.5H628.84V702.75H627.66V706.01H626.77V709.26H626.18V712.52H625.63V715.78H625.17V719.03H624.79V722.29H624.45V725.54H624.16V728.8H623.95V732.06H623.82V735.31H623.82V738.57H623.95V741.82H625.3V745.08H627.99V748.34H633.56V751.59H642.83V754.85H657.71V758.11H679.25V761.36H705.21V764.62H729.83V767.87H747.15V771.13H755.62V774.39H745.68V777.64H727.47V780.9H703.48V784.15H680.26V787.41H659.02V790.67H643V793.92H632.38V797.18H627.83V800.43H629.85V803.69H636.26V806.95H646.37V810.2H659.52V813.46H672.51V816.71H684.94V819.97H691.68V823.23H711.91V826.48H702.13V829.74H729.95V832.99H741.76V836.25H726.58V839.51H711.91V842.76H702.98V846.02H699.3V849.28H696.7V852.53H692.31V855.79H686.57V859.04H676.96V862.3H667.35V865.56H657.57V868.81H649.35V872.07H642.4V875.32H637.55V878.58H634.18V881.84H632.32V885.09H630.97V888.35H630.6V891.6H630.43V894.86H630.93V898.12H631.61V901.37H633.5V904.63H637.85V907.88H643.41V911.14H652.39V914.4H664.32V917.65H678.65V920.91H694.03V924.16H705.79V927.42H713.42V930.68H715.24V933.93H712.58V937.19H703.1V940.45H693.02V943.7H685.06V946.96H680.73V950.21H674.39V953.47H672.07V956.73H672.41V959.98H674.44V963.24H674.44V966.49H671.84V969.75H665.94V973.01H660.05V976.26H653.35V979.52H647.45V982.77H643.25V986.03H641.55V989.29H638.55V992.54H635.56V995.8H632.56V999.05H629.06V1002.31H625.56V1005.57H622.06V1008.82H619.56V1012.08H617.06V1015.33H615.06V1018.59H613.56V1021.85H612.36V1025.1H611.86V1028.36H611.36V1031.62H611.06V1034.87H610.66V1038.13H610.56V1041.38H610.37V1044.64H610.17V1047.9H610.07V1051.15H609.87V1054.41H610.07V1057.66H610.17V1060.92H611.06V1064.18H612.26V1067.43H613.86V1070.69H615.76V1073.94H617.76V1077.2" stroke="#00ff00" stroke-width="1.5"/>
<path d="M559.63 165.5V168.76H559.96V172.01H561.31V175.27H564.35V178.52H569.74V181.78H576.49V185.04H583.57V188.29H589.64V191.55H592.51V194.8H585.76V198.06H577.33V201.32H568.9V204.57H563V207.83H559.29V211.09H556.76V214.34H555.07V217.6H553.73V220.85H555.92V224.11H557.1V227.37H557.35V230.62H557.39V233.88H557.22V237.13H556.93V240.39H556.59V243.65H556.42V246.9H556.59V250.16H557.27V253.41H557.94V256.67H558.62V259.93H558.78V263.18H558.62V266.44H558.36V269.69H558.28V272.95H559.29V276.21H561.31V279.46H563.84V282.72H568.9V285.97H576.49V289.23H583.23V292.49H586.6V295.74H585.76V299H582.89V302.25H578.17V305.51H572.78V308.77H568.9V312.02H566.03V315.28H563.5V318.54H560.98V321.79H558.28V325.05H555.92V328.3H554.23V331.56H553.39V334.82H553.22V338.07H554.23V341.33H556.25V344.58H557.27V347.84H557.48V351.1H557.44V354.35H555.92V357.61H553.73V360.86H552.88V364.12H550.35V367.38H549.51V370.63H549.22V373.89H549.05V377.14H549.05V380.4H549.17V383.66H549.34V386.91H549.51V390.17H549.64V393.43H549.68V396.68H549.64V399.94H549.51V403.19H549.34V406.45H549.09V409.71H548.67V412.96H548.16V416.22H547.49V419.47H546.98V422.73H546.52V425.99H546.14V429.24H545.89V432.5H545.84V435.75H546.05V439.01H546.48V442.27H547.15V445.52H547.99V448.78H549V452.03H549.85V455.29H550.52V458.55H550.52V461.8H551.2V465.06H551.66V468.31H552V471.57H552.17V474.83H552.21V478.08H552.25V481.34H552.42V484.6H552.71V487.85H553.56V491.11H554.57V494.36H555.58V497.62H556.25V500.88H556.51V504.13H556.51V507.39H556.21V510.64H555.75V513.9H555.07V517.16H554.57V520.41H554.1V523.67H553.85V526.92H553.89V530.18H554.57V533.44H555.41V536.69H556.25V539.95H557.1V543.2H557.52V546.46H557.69V549.72H557.56V552.97H557.31V556.23H557.01V559.48H556.59V562.74H555.92V566H555.5V569.25H555.37V572.51H555.58V575.77H556.59V579.02H558.28V582.28H560.98V585.53H563.34V588.79H565.53V592.05H567.72V595.3H570.08V598.56H572.27V601.81H573.96V605.07H575.31V608.33H576.49V611.58H577.5V614.84H578.17V618.09H578.85V621.35H579.19V624.61H579.48V627.86H579.69V631.12H579.86V634.37H580.07V637.63H580.37V640.89H581.55V644.14H585.76V647.4H591.66V650.65H602.62V653.91H620.33V657.17H642.25V660.42H665.97V663.68H687.05V666.94H703.4V670.19H705.26V673.45H689.58V676.7H668.5V679.96H644.77V683.22H624.54V686.47H605.99V689.73H594.7V692.98H588.29V696.24H584.58V699.5H582.39V702.75H581.21V706.01H580.37V709.26H579.86V712.52H579.4V715.78H579.02V719.03H578.68V722.29H578.38V725.54H578.17V728.8H578.01V732.06H577.79V735.31H577.5V738.57H577.16V741.82H576.83V745.08H576.15V748.34H575.48V751.59H575.48V754.85H575.18V758.11H574.8V761.36H574.51V764.62H574.34V767.87H574.3V771.13H574.34V774.39H574.51V777.64H574.84V780.9H575.31V784.15H575.81V787.41H576.49V790.67H577.33V793.92H578.51V797.18H580.7V800.43H585.76V803.69H594.19V806.95H605.99V810.2H620.33V813.46H634.66V816.71H648.27V819.97H655.85V823.23H674.06V826.48H665.13V829.74H684.52V832.99H690.42V836.25H675.75V839.51H661.76V842.76H653.33V846.02H649.95V849.28H647.42V852.53H643.21V855.79H637.81V859.04H628.54V862.3H619.27V865.56H609.82V868.81H601.9V872.07H595.16V875.32H590.43V878.58H587.06V881.84H585.04V885.09H583.35V888.35H582.51V891.6H581.67V894.86H581.16V898.12H580.49V901.37H580.02V904.63H579.64V907.88H579.31V911.14H579.01V914.4H578.8V917.65H578.63V920.91H578.51V924.16H578.46V927.42H578.51V930.68H578.63V933.93H578.84V937.19H579.14V940.45H579.52V943.7H579.98V946.96H580.82V950.21H582.51V953.47H584.53V956.73H587.23V959.98H589.37V963.24H592.67V966.49H595.07V969.75H596.57V973.01H597.27V976.26H596.67V979.52H595.57V982.77H594.57V986.03H593.57V989.29H592.37V992.54H590.67V995.8H588.37V999.05H585.67V1002.31H582.88V1005.57H580.38V1008.82H578.08V1012.08H576.38V1015.33H575.18V1018.59H574.18V1021.85H573.72V1025.1H573.41V1028.36H573.16V1031.62H572.95V1034.87H572.78V1038.13H572.61V1041.38H572.44V1044.64H572.27V1047.9H572.1V1051.15H571.94V1054.41H571.81V1057.66H571.81V1060.92H571.98V1064.18H572.31V1067.43H572.78V1070.69H573.45V1073.94H573.96V1077.2" stroke="#0000ff" stroke-width="1.5"/>
<path d="M559.63 165.5V168.76H559.63V172.01H559.58V175.27H559.46V178.52H559.29V181.78H559.12V185.04H558.95V188.29H558.74V191.55H558.45V194.8H558.11V198.06H557.73V201.32H557.27V204.57H556.76V207.83H556.25V211.09H555.58V214.34H554.57V217.6H553.39V220.85H555.41V224.11H556.25V227.37H556.51V230.62H556.59V233.88H556.59V237.13H556.51V240.39H556.34V243.65H556.25V246.9H557.1V250.16H558.78V253.41H562.16V256.67H567.72V259.93H574.46V263.18H582.39V266.44H588.29V269.69H589.98V272.95H586.94V276.21H578.17V279.46H569.41V282.72H563.84V285.97H559.96V289.23H557.94V292.49H557.1V295.74H556.63V299H556.21V302.25H555.79V305.51H555.37V308.77H554.91V312.02H554.23V315.28H553.89V318.54H553.6V321.79H553.39V325.05H553.26V328.3H553.22V331.56H553.26V334.82H553.43V338.07H553.64V341.33H553.64V344.58H553.35V347.84H552.92V351.1H552.59V354.35H552.46V357.61H552.55V360.86H553.73V364.12H557.6V367.38H562.16V370.63H567.72V373.89H571.43V377.14H573.45V380.4H572.78V383.66H570.08V386.91H566.71V390.17H563.84V393.43H561.31V396.68H558.78V399.94H556.25V403.19H554.23V406.45H552.21V409.71H550.02V412.96H548.67V416.22H547.82V419.47H547.66V422.73H547.82V425.99H549.17V429.24H550.86V432.5H552.55V435.75H553.73V439.01H553.77V442.27H553.51V445.52H553.05V448.78H552.59V452.03H552.21V455.29H552V458.55H552V461.8H552.08V465.06H552.17V468.31H552.21V471.57H552.21V474.83H552.17V478.08H552.08V481.34H552.08V484.6H552.25V487.85H552.55V491.11H552.84V494.36H552.97V497.62H552.84V500.88H552.55V504.13H552.29V507.39H552.33V510.64H552.71V513.9H553.22V517.16H553.68V520.41H553.94V523.67H553.89V526.92H553.89V530.18H554.23V533.44H555.07V536.69H555.92V539.95H556.59V543.2H557.01V546.46H557.22V549.72H557.27V552.97H557.22V556.23H557.01V559.48H556.59V562.74H555.92V566H555.54V569.25H555.5V572.51H555.75V575.77H557.1V579.02H559.63V582.28H563V585.53H567.21V588.79H571.43V592.05H575.14V595.3H578.51V598.56H581.55V601.81H583.23V605.07H582.89V608.33H581.21V611.58H579.86V614.84H579.02V618.09H578.64V621.35H578.55V624.61H578.72V627.86H578.97V631.12H579.19V634.37H579.35V637.63H579.52V640.89H579.69V644.14H579.86V647.4H580.03V650.65H580.07V653.91H579.86V657.17H579.52V660.42H579.23V663.68H579.02V666.94H578.85V670.19H578.72V673.45H578.68V676.7H578.72V679.96H578.85V683.22H579.02V686.47H579.14V689.73H579.19V692.98H579.19V696.24H579.19V699.5H579.19V702.75H579.19V706.01H579.14V709.26H579.06V712.52H578.97V715.78H578.89V719.03H578.85V722.29H578.81V725.54H578.72V728.8H578.68V732.06H578.76V735.31H579.06V738.57H579.52V741.82H581.21V745.08H584.58V748.34H590.82V751.59H600.09V754.85H615.27V758.11H637.19V761.36H663.44V764.62H688.23V767.87H705.59V771.13H714.02V774.39H703.91V777.64H685.36V780.9H660.91V784.15H637.19V787.41H615.27V790.67H598.41V793.92H586.6V797.18H579.86V800.43H576.83V803.69H574.8V806.95H573.12V810.2H571.94V813.46H570.59V816.71H569.41V819.97H568.56V823.23H570.59V826.48H569.74V829.74H578.17V832.99H584.08V836.25H583.57V839.51H582.89V842.76H582.39V846.02H582.08V849.28H582.02V852.53H581.84V855.79H581.5V859.04H581.16V862.3H580.82V865.56H580.49V868.81H580.19V872.07H579.98V875.32H579.85V878.58H579.85V881.84H580.02V885.09H580.36V888.35H580.82V891.6H581.5V894.86H582.51V898.12H583.86V901.37H586.22V904.63H590.94V907.88H596.84V911.14H606.11V914.4H618.25V917.65H632.76V920.91H648.27V924.16H660.07V927.42H667.66V930.68H669.34V933.93H666.48V937.19H656.7V940.45H646.24V943.7H637.81V946.96H628.03V950.21H622.98V953.47H619.6V956.73H617.58V959.98H618.36V963.24H614.86V966.49H610.86V969.75H605.87V973.01H600.37V976.26H593.87V979.52H589.37V982.77H584.87V986.03H581.38V989.29H578.88V992.54H576.88V995.8H575.58V999.05H574.88V1002.31H574.18V1005.57H573.7V1008.82H573.28V1012.08H572.88V1015.33H572.48V1018.59H572.08V1021.85H571.43V1025.1H571.13V1028.36H570.92V1031.62H570.76V1034.87H570.63V1038.13H570.59V1041.38H570.59V1044.64H570.59V1047.9H570.63V1051.15H570.76V1054.41H570.92V1057.66H571.13V1060.92H571.43V1064.18H572.27V1067.43H573.45V1070.69H574.8V1073.94H576.15V1077.2" stroke="#ff0000" stroke-width="1.5"/>
</g>
<path d="M569.27 61.23 L569.27 79.5 M569.27 61.23 L576.23 79.5 M583.19 61.23 L576.23 79.5 M583.19 61.23 L583.19 79.5 M590.36 61.23 L590.36 79.5 M590.36 61.23 L601.67 61.23 M590.36 69.93 L597.32 69.93 M590.36 79.5 L601.67 79.5 M619.27 65.58 L618.4 63.84 L616.66 62.1 L614.92 61.23 L611.44 61.23 L609.7 62.1 L607.96 63.84 L607.09 65.58 L606.22 68.19 L606.22 72.54 L607.09 75.15 L607.96 76.89 L609.7 78.63 L611.44 79.5 L614.92 79.5 L616.66 78.63 L618.4 76.89 L619.27 75.15 L619.27 72.54 M614.92 72.54 L619.27 72.54 M651.83 65.58 L650.96 63.84 L649.22 62.1 L647.48 61.23 L644 61.23 L642.26 62.1 L640.52 63.84 L639.65 65.58 L638.78 68.19 L638.78 72.54 L639.65 75.15 L640.52 76.89 L642.26 78.63 L644 79.5 L647.48 79.5 L649.22 78.63 L650.96 76.89 L651.83 75.15 M661.6 67.32 L659.86 68.19 L658.12 69.93 L657.25 72.54 L657.25 74.28 L658.12 76.89 L659.86 78.63 L661.6 79.5 L664.21 79.5 L665.95 78.63 L667.69 76.89 L668.56 74.28 L668.56 72.54 L667.69 69.93 L665.95 68.19 L664.21 67.32 L661.6 67.32 M674.84 67.32 L674.84 76.02 L675.71 78.63 L677.45 79.5 L680.06 79.5 L681.8 78.63 L684.41 76.02 M684.41 67.32 L684.41 79.5 M691.56 67.32 L691.56 79.5 M691.56 70.8 L694.17 68.19 L695.91 67.32 L698.52 67.32 L700.26 68.19 L701.13 70.8 L701.13 79.5 M709.12 61.23 L709.12 76.02 L709.99 78.63 L711.73 79.5 L713.47 79.5 M706.51 67.32 L712.6 67.32 M727.53 69.93 L726.66 68.19 L724.05 67.32 L721.44 67.32 L718.83 68.19 L717.96 69.93 L718.83 71.67 L720.57 72.54 L724.92 73.41 L726.66 74.28 L727.53 76.02 L727.53 76.89 L726.66 78.63 L724.05 79.5 L721.44 79.5 L718.83 78.63 L717.96 76.89" fill="none" stroke="#000" stroke-width="0.75" stroke-linecap="round" stroke-linejoin="round"/>
<path d="M540.71 146.84 L539.84 144.23 L537.23 142.49 L532.88 141.62 L530.27 141.62 L525.92 142.49 L523.31 144.23 L522.44 146.84 L522.44 148.58 L523.31 151.19 L525.92 152.93 L530.27 153.8 L532.88 153.8 L537.23 152.93 L539.84 151.19 L540.71 148.58 L540.71 146.84" fill="none" stroke="#000" stroke-width="0.75" stroke-linecap="round" stroke-linejoin="round"/>
<path d="M585.31 124.89 L586.18 124.89 L587.92 125.76 L588.79 126.63 L589.66 128.37 L589.66 131.85 L588.79 133.59 L587.92 134.46 L586.18 135.33 L584.44 135.33 L582.7 134.46 L580.09 132.72 L571.39 124.02 L571.39 136.2 M589.66 146.84 L588.79 144.23 L586.18 142.49 L581.83 141.62 L579.22 141.62 L574.87 142.49 L572.26 144.23 L571.39 146.84 L571.39 148.58 L572.26 151.19 L574.87 152.93 L579.22 153.8 L581.83 153.8 L586.18 152.93 L588.79 151.19 L589.66 148.58 L589.66 146.84" fill="none" stroke="#000" stroke-width="0.75" stroke-linecap="round" stroke-linejoin="round"/>
<path d="M638.61 132.72 L626.43 124.02 L626.43 137.07 M638.61 132.72 L620.34 132.72 M638.61 146.84 L637.74 144.23 L635.13 142.49 L630.78 141.62 L628.17 141.62 L623.82 142.49 L621.21 144.23 L620.34 146.84 L620.34 148.58 L621.21 151.19 L623.82 152.93 L628.17 153.8 L630.78 153.8 L635.13 152.93 L637.74 151.19 L638.61 148.58 L638.61 146.84" fill="none" stroke="#000" stroke-width="0.75" stroke-linecap="round" stroke-linejoin="round"/>
<path d="M684.96 135.33 L686.7 134.46 L687.57 131.85 L687.57 130.11 L686.7 127.5 L684.09 125.76 L679.74 124.89 L675.39 124.89 L671.91 125.76 L670.17 127.5 L669.3 130.11 L669.3 130.98 L670.17 133.59 L671.91 135.33 L674.52 136.2 L675.39 136.2 L678 135.33 L679.74 133.59 L680.61 130.98 L680.61 130.11 L679.74 127.5 L678 125.76 L675.39 124.89 M687.57 146.84 L686.7 144.23 L684.09 142.49 L679.74 141.62 L677.13 141.62 L672.78 142.49 L670.17 144.23 L669.3 146.84 L669.3 148.58 L670.17 151.19 L672.78 152.93 L677.13 153.8 L679.74 153.8 L684.09 152.93 L686.7 151.19 L687.57 148.58 L687.57 146.84" fill="none" stroke="#000" stroke-width="0.75" stroke-linecap="round" stroke-linejoin="round"/>
<path d="M736.52 128.37 L735.65 125.76 L733.91 124.89 L732.17 124.89 L730.43 125.76 L729.56 127.5 L728.69 130.98 L727.82 133.59 L726.08 135.33 L724.34 136.2 L721.73 136.2 L719.99 135.33 L719.12 134.46 L718.25 131.85 L718.25 128.37 L719.12 125.76 L719.99 124.89 L721.73 124.02 L724.34 124.02 L726.08 124.89 L727.82 126.63 L728.69 129.24 L729.56 132.72 L730.43 134.46 L732.17 135.33 L733.91 135.33 L735.65 134.46 L736.52 131.85 L736.52 128.37 M736.52 146.84 L735.65 144.23 L733.04 142.49 L728.69 141.62 L726.08 141.62 L721.73 142.49 L719.12 144.23 L718.25 146.84 L718.25 148.58 L719.12 151.19 L721.73 152.93 L726.08 153.8 L728.69 153.8 L733.04 152.93 L735.65 151.19 L736.52 148.58 L736.52 146.84" fill="none" stroke="#000" stroke-width="0.75" stroke-linecap="round" stroke-linejoin="round"/>
<path d="M773.79 109.03 L774.66 110.77 L777.27 113.38 L759 113.38 M777.27 129.24 L776.4 126.63 L773.79 124.89 L769.44 124.02 L766.83 124.02 L762.48 124.89 L759.87 126.63 L759 129.24 L759 130.98 L759.87 133.59 L762.48 135.33 L766.83 136.2 L769.44 136.2 L773.79 135.33 L776.4 133.59 L777.27 130.98 L777.27 129.24 M777.27 146.84 L776.4 144.23 L773.79 142.49 L769.44 141.62 L766.83 141.62 L762.48 142.49 L759.87 144.23 L759 146.84 L759 148.58 L759.87 151.19 L762.48 152.93 L766.83 153.8 L769.44 153.8 L773.79 152.93 L776.4 151.19 L777.27 148.58 L777.27 146.84" fill="none" stroke="#000" stroke-width="0.75" stroke-linecap="round" stroke-linejoin="round"/>
<path d="M422.44 199.88 L421.27 198.71 L419.51 198.12 L417.16 198.12 L415.4 198.71 L414.22 199.88 L414.22 201.06 L414.81 202.23 L415.4 202.82 L416.57 203.41 L420.09 204.58 L421.27 205.17 L421.85 205.75 L422.44 206.93 L422.44 208.69 L421.27 209.86 L419.51 210.45 L417.16 210.45 L415.4 209.86 L414.22 208.69 M435.36 198.12 L443.57 210.45 M443.57 198.12 L435.36 210.45 M445.92 198.12 L450.62 210.45 M455.31 198.12 L450.62 210.45 M458.25 198.12 L458.25 210.45 M465.88 198.12 L461.18 210.45 M465.88 198.12 L470.58 210.45 M462.94 206.34 L468.81 206.34" fill="none" stroke="#0000ff" stroke-width="0.7" stroke-linecap="round" stroke-linejoin="round"/>
<path d="M369 204.3H388.8M495.4 204.3H515.2" stroke="#0000ff" stroke-width="0.8" fill="none"/>
<path d="M422.44 278.38 L421.27 277.21 L419.51 276.62 L417.16 276.62 L415.4 277.21 L414.22 278.38 L414.22 279.56 L414.81 280.73 L415.4 281.32 L416.57 281.91 L420.09 283.08 L421.27 283.67 L421.85 284.25 L422.44 285.43 L422.44 287.19 L421.27 288.36 L419.51 288.95 L417.16 288.95 L415.4 288.36 L414.22 287.19 M435.36 276.62 L443.57 288.95 M443.57 276.62 L435.36 288.95 M445.92 276.62 L450.62 288.95 M455.31 276.62 L450.62 288.95 M458.25 276.62 L458.25 288.95 M465.88 276.62 L461.18 288.95 M465.88 276.62 L470.58 288.95 M462.94 284.84 L468.81 284.84" fill="none" stroke="#ff0000" stroke-width="0.7" stroke-linecap="round" stroke-linejoin="round"/>
<path d="M369 282.8H388.8M495.4 282.8H515.2" stroke="#ff0000" stroke-width="0.8" fill="none"/>
<path d="M430.07 308.78 L428.9 307.61 L427.14 307.02 L424.79 307.02 L423.03 307.61 L421.85 308.78 L421.85 309.96 L422.44 311.13 L423.03 311.72 L424.2 312.31 L427.72 313.48 L428.9 314.07 L429.49 314.65 L430.07 315.83 L430.07 317.59 L428.9 318.76 L427.14 319.35 L424.79 319.35 L423.03 318.76 L421.85 317.59 M442.99 307.02 L451.2 319.35 M451.2 307.02 L442.99 319.35 M453.55 307.02 L458.25 319.35 M462.94 307.02 L458.25 319.35" fill="none" stroke="#0000ff" stroke-width="0.7" stroke-linecap="round" stroke-linejoin="round"/>
<path d="M369 313.2H388.8M495.4 313.2H515.2" stroke="#0000ff" stroke-width="0.8" fill="none"/>
<path d="M419.8 351.58 L418.63 350.41 L416.87 349.82 L414.52 349.82 L412.76 350.41 L411.58 351.58 L411.58 352.76 L412.17 353.93 L412.76 354.52 L413.93 355.11 L417.45 356.28 L418.63 356.87 L419.21 357.45 L419.8 358.63 L419.8 360.39 L418.63 361.56 L416.87 362.15 L414.52 362.15 L412.76 361.56 L411.58 360.39 M423.32 349.82 L423.91 350.41 L424.5 349.82 L423.91 349.24 L423.32 349.82 M423.91 353.93 L423.91 362.15 M437.41 349.82 L445.63 362.15 M445.63 349.82 L437.41 362.15 M449.74 349.82 L449.74 362.15 M452.67 349.82 L457.37 362.15 M462.06 349.82 L457.37 362.15 M465 349.82 L465 362.15 M465 349.82 L470.28 349.82 L472.04 350.41 L472.63 351 L473.22 352.17 L473.22 353.34 L472.63 354.52 L472.04 355.11 L470.28 355.69 M465 355.69 L470.28 355.69 L472.04 356.28 L472.63 356.87 L473.22 358.04 L473.22 359.8 L472.63 360.98 L472.04 361.56 L470.28 362.15 L465 362.15" fill="none" stroke="#0000ff" stroke-width="0.7" stroke-linecap="round" stroke-linejoin="round"/>
<path d="M369 356H388.8M495.4 356H515.2" stroke="#0000ff" stroke-width="0.8" fill="none"/>
<path d="M430.07 380.98 L428.9 379.81 L427.14 379.22 L424.79 379.22 L423.03 379.81 L421.85 380.98 L421.85 382.16 L422.44 383.33 L423.03 383.92 L424.2 384.51 L427.72 385.68 L428.9 386.27 L429.49 386.85 L430.07 388.03 L430.07 389.79 L428.9 390.96 L427.14 391.55 L424.79 391.55 L423.03 390.96 L421.85 389.79 M442.99 379.22 L451.2 391.55 M451.2 379.22 L442.99 391.55 M453.55 379.22 L458.25 391.55 M462.94 379.22 L458.25 391.55" fill="none" stroke="#ff0000" stroke-width="0.7" stroke-linecap="round" stroke-linejoin="round"/>
<path d="M369 385.4H388.8M495.4 385.4H515.2" stroke="#ff0000" stroke-width="0.8" fill="none"/>
<path d="M420.09 668.18 L418.92 667.01 L417.16 666.42 L414.81 666.42 L413.05 667.01 L411.88 668.18 L411.88 669.36 L412.46 670.53 L413.05 671.12 L414.22 671.71 L417.75 672.88 L418.92 673.47 L419.51 674.05 L420.09 675.23 L420.09 676.99 L418.92 678.16 L417.16 678.75 L414.81 678.75 L413.05 678.16 L411.88 676.99 M423.62 666.42 L424.2 667.01 L424.79 666.42 L424.2 665.84 L423.62 666.42 M424.2 670.53 L424.2 678.75 M437.7 666.42 L445.92 678.75 M445.92 666.42 L437.7 678.75 M450.03 666.42 L450.03 678.75 M452.97 666.42 L457.66 678.75 M462.36 666.42 L457.66 678.75 M468.23 666.42 L463.53 678.75 M468.23 666.42 L472.92 678.75 M465.29 674.64 L471.16 674.64" fill="none" stroke="#0000ff" stroke-width="0.7" stroke-linecap="round" stroke-linejoin="round"/>
<path d="M369 672.6H388.8M495.4 672.6H515.2" stroke="#0000ff" stroke-width="0.8" fill="none"/>
<path d="M420.09 767.98 L418.92 766.81 L417.16 766.22 L414.81 766.22 L413.05 766.81 L411.88 767.98 L411.88 769.16 L412.46 770.33 L413.05 770.92 L414.22 771.51 L417.75 772.68 L418.92 773.27 L419.51 773.85 L420.09 775.03 L420.09 776.79 L418.92 777.96 L417.16 778.55 L414.81 778.55 L413.05 777.96 L411.88 776.79 M423.62 766.22 L424.2 766.81 L424.79 766.22 L424.2 765.64 L423.62 766.22 M424.2 770.33 L424.2 778.55 M437.7 766.22 L445.92 778.55 M445.92 766.22 L437.7 778.55 M450.03 766.22 L450.03 778.55 M452.97 766.22 L457.66 778.55 M462.36 766.22 L457.66 778.55 M468.23 766.22 L463.53 778.55 M468.23 766.22 L472.92 778.55 M465.29 774.44 L471.16 774.44" fill="none" stroke="#ff0000" stroke-width="0.7" stroke-linecap="round" stroke-linejoin="round"/>
<path d="M369 772.4H388.8M495.4 772.4H515.2" stroke="#ff0000" stroke-width="0.8" fill="none"/>
<path d="M426.84 822.58 L425.67 821.41 L423.91 820.82 L421.56 820.82 L419.8 821.41 L418.63 822.58 L418.63 823.76 L419.21 824.93 L419.8 825.52 L420.97 826.11 L424.5 827.28 L425.67 827.87 L426.26 828.45 L426.84 829.63 L426.84 831.39 L425.67 832.56 L423.91 833.15 L421.56 833.15 L419.8 832.56 L418.63 831.39 M430.37 820.82 L430.95 821.41 L431.54 820.82 L430.95 820.24 L430.37 820.82 M430.95 824.93 L430.95 833.15 M444.45 820.82 L452.67 833.15 M452.67 820.82 L444.45 833.15 M456.78 820.82 L456.78 833.15 M461.48 820.82 L461.48 833.15 M466.17 820.82 L466.17 833.15" fill="none" stroke="#0000ff" stroke-width="0.7" stroke-linecap="round" stroke-linejoin="round"/>
<path d="M369 827H388.8M495.4 827H515.2" stroke="#0000ff" stroke-width="0.8" fill="none"/>
<path d="M426.84 927.18 L425.67 926.01 L423.91 925.42 L421.56 925.42 L419.8 926.01 L418.63 927.18 L418.63 928.36 L419.21 929.53 L419.8 930.12 L420.97 930.71 L424.5 931.88 L425.67 932.47 L426.26 933.05 L426.84 934.23 L426.84 935.99 L425.67 937.16 L423.91 937.75 L421.56 937.75 L419.8 937.16 L418.63 935.99 M430.37 925.42 L430.95 926.01 L431.54 925.42 L430.95 924.84 L430.37 925.42 M430.95 929.53 L430.95 937.75 M444.45 925.42 L452.67 937.75 M452.67 925.42 L444.45 937.75 M456.78 925.42 L456.78 937.75 M461.48 925.42 L461.48 937.75 M466.17 925.42 L466.17 937.75" fill="none" stroke="#ff0000" stroke-width="0.7" stroke-linecap="round" stroke-linejoin="round"/>
<path d="M369 931.6H388.8M495.4 931.6H515.2" stroke="#ff0000" stroke-width="0.8" fill="none"/>
</svg>
</body></html>
